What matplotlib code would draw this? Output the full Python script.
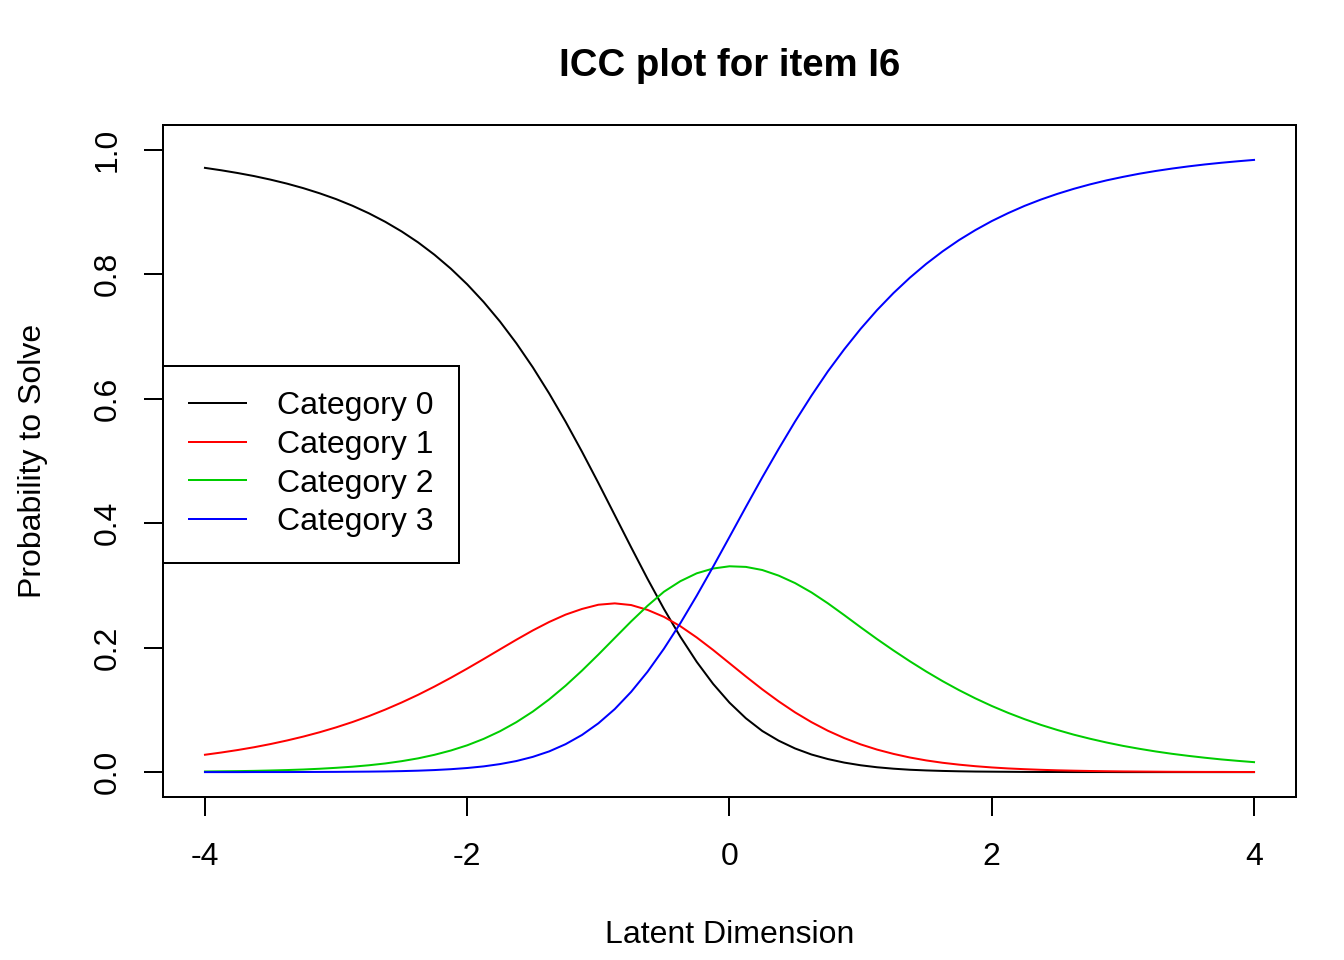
import matplotlib
matplotlib.use("Agg")
import matplotlib.pyplot as plt
import numpy as np

plt.rcParams['font.family'] = ['Liberation Sans', 'DejaVu Sans']
plt.rcParams['font.size'] = 12

titulo = "ICC plot for item I6"

# latent dimension grid (-4 .. 4, step 0.125)
theta = np.linspace(-4, 4, 65)

cat0 = [0.9711, 0.9672, 0.9628, 0.9579, 0.9522, 0.9458, 0.9385, 0.9302, 0.9209,
        0.9102, 0.8981, 0.8844, 0.8689, 0.8514, 0.8315, 0.8091, 0.7839, 0.7556,
        0.7241, 0.6891, 0.6506, 0.6085, 0.5632, 0.5150, 0.4647, 0.4130, 0.3613,
        0.3106, 0.2623, 0.2176, 0.1772, 0.1418, 0.1116, 0.0865, 0.0661, 0.0505,
        0.0380, 0.0283, 0.0210, 0.0153, 0.0110, 0.0078, 0.0055, 0.0038, 0.0027,
        0.0019, 0.0013, 0.0009, 0.0007, 0.0005, 0.0003, 0.0002, 0.0002, 0.0001,
        0.0001, 0.0001, 0.0000, 0.0000, 0.0000, 0.0000, 0.0000, 0.0000, 0.0000,
        0.0000, 0.0000]
cat1 = [0.0279, 0.0315, 0.0355, 0.0400, 0.0451, 0.0508, 0.0571, 0.0641, 0.0719,
        0.0805, 0.0900, 0.1005, 0.1119, 0.1242, 0.1375, 0.1516, 0.1664, 0.1817,
        0.1973, 0.2128, 0.2277, 0.2413, 0.2531, 0.2622, 0.2690, 0.2712, 0.2685,
        0.2607, 0.2495, 0.2345, 0.2164, 0.1963, 0.1750, 0.1537, 0.1330, 0.1137,
        0.0960, 0.0803, 0.0665, 0.0547, 0.0446, 0.0362, 0.0293, 0.0235, 0.0188,
        0.0150, 0.0120, 0.0095, 0.0075, 0.0059, 0.0047, 0.0037, 0.0029, 0.0023,
        0.0018, 0.0014, 0.0011, 0.0009, 0.0007, 0.0005, 0.0004, 0.0003, 0.0003,
        0.0002, 0.0002]
cat2 = [0.0010, 0.0013, 0.0016, 0.0020, 0.0026, 0.0033, 0.0042, 0.0054, 0.0069,
        0.0087, 0.0110, 0.0139, 0.0176, 0.0221, 0.0278, 0.0347, 0.0431, 0.0534,
        0.0657, 0.0803, 0.0973, 0.1169, 0.1389, 0.1631, 0.1889, 0.2156, 0.2422,
        0.2673, 0.2899, 0.3068, 0.3195, 0.3272, 0.3308, 0.3298, 0.3248, 0.3158,
        0.3038, 0.2888, 0.2713, 0.2523, 0.2328, 0.2138, 0.1956, 0.1782, 0.1617,
        0.1462, 0.1318, 0.1185, 0.1063, 0.0952, 0.0851, 0.0759, 0.0677, 0.0602,
        0.0536, 0.0476, 0.0422, 0.0375, 0.0332, 0.0294, 0.0261, 0.0231, 0.0204,
        0.0181, 0.0160]
cat3 = [0.0000, 0.0000, 0.0000, 0.0001, 0.0001, 0.0001, 0.0002, 0.0003, 0.0004,
        0.0006, 0.0008, 0.0011, 0.0016, 0.0023, 0.0033, 0.0047, 0.0066, 0.0092,
        0.0129, 0.0178, 0.0245, 0.0333, 0.0449, 0.0597, 0.0784, 0.1013, 0.1290,
        0.1613, 0.1983, 0.2392, 0.2835, 0.3301, 0.3780, 0.4262, 0.4737, 0.5195,
        0.5635, 0.6050, 0.6440, 0.6795, 0.7124, 0.7425, 0.7698, 0.7945, 0.8168,
        0.8369, 0.8550, 0.8711, 0.8856, 0.8984, 0.9100, 0.9202, 0.9293, 0.9374,
        0.9446, 0.9510, 0.9566, 0.9617, 0.9661, 0.9700, 0.9735, 0.9766, 0.9793,
        0.9817, 0.9839]

labels = ["Category 0", "Category 1", "Category 2", "Category 3"]
colores = ["black", "#ff0000", "#00cd00", "#0000ff"]

fig = plt.figure(figsize=(7, 5), dpi=192, facecolor='w')
ax = fig.add_axes([163/1344, 163/960, (1296-163)/1344, (797-125)/960])

for serie, col, lab in zip([cat0, cat1, cat2, cat3], colores, labels):
    ax.plot(theta, serie, color=col, lw=0.75, label=lab)

ax.set_xlim(-4.32, 4.32)
ax.set_ylim(-0.04, 1.04)
ax.set_xticks([-4, -2, 0, 2, 4])
ax.set_xticklabels(["-4", "-2", "0", "2", "4"])
ax.set_yticks([0.0, 0.2, 0.4, 0.6, 0.8, 1.0])
ax.set_yticklabels(["0.0", "0.2", "0.4", "0.6", "0.8", "1.0"], rotation=90, va='center')
ax.tick_params(length=7.2, width=0.75, labelsize=12)
ax.tick_params(axis='x', pad=9.8)
ax.tick_params(axis='y', pad=8)
for s in ax.spines.values():
    s.set_linewidth(0.75)

ax.set_xlabel("Latent Dimension", labelpad=18)
ax.set_ylabel("Probability to Solve", labelpad=16.5)
ax.set_title(titulo, fontsize=14.4, fontweight='bold', pad=18.5)

leg = ax.legend(loc='center left', bbox_to_anchor=(0, 0.495), borderaxespad=0,
                fancybox=False, edgecolor='black', framealpha=1,
                handlelength=1.8, handletextpad=0.95, labelspacing=0.27,
                borderpad=0.8, fontsize=12)
leg.get_frame().set_linewidth(0.75)

plt.savefig("out.png", dpi=192)
